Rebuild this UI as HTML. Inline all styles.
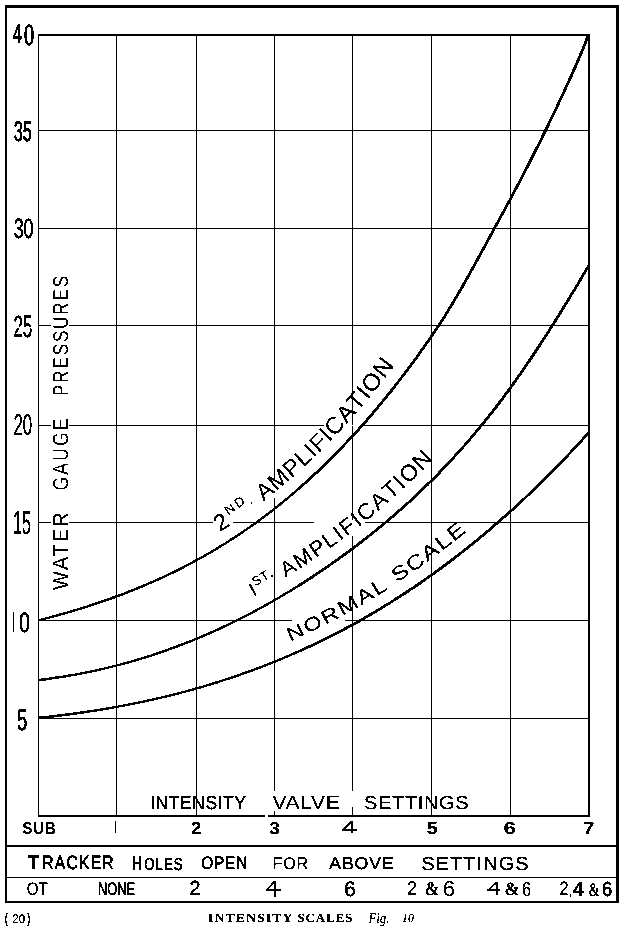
<!DOCTYPE html><html><head><meta charset="utf-8"><title>Intensity Scales</title><style>html,body{margin:0;padding:0;background:#fff;}svg{display:block;}text{font-family:"Liberation Sans",sans-serif;fill:#000;}.b{font-weight:bold}.sf{font-family:"Liberation Serif",serif}.i{font-style:italic}</style></head><body>
<svg width="626" height="931" viewBox="0 0 626 931" shape-rendering="crispEdges">
<defs><filter id="thr" x="0" y="0" width="626" height="931" filterUnits="userSpaceOnUse" color-interpolation-filters="sRGB"><feColorMatrix type="saturate" values="0"/><feComponentTransfer><feFuncR type="discrete" tableValues="0 0 0 0 0 1 1 1"/><feFuncG type="discrete" tableValues="0 0 0 0 0 1 1 1"/><feFuncB type="discrete" tableValues="0 0 0 0 0 1 1 1"/></feComponentTransfer></filter></defs>
<g filter="url(#thr)">
<rect x="0" y="0" width="626" height="931" fill="#fff"/>
<g fill="#000">
<rect x="5" y="5" width="614" height="3"/>
<rect x="5" y="5" width="2" height="898"/>
<rect x="616" y="5" width="3" height="898"/>
<rect x="5" y="901" width="614" height="2"/>
<rect x="5" y="845" width="612" height="2"/>
<rect x="5" y="877" width="612" height="1"/>
<rect x="38" y="34" width="552" height="2"/>
<rect x="38" y="34" width="1" height="782"/>
<rect x="588" y="34" width="2" height="782"/>
<rect x="38" y="815" width="552" height="2"/>
<rect x="116" y="35" width="1" height="781"/>
<rect x="196" y="35" width="1" height="781"/>
<rect x="274" y="35" width="1" height="781"/>
<rect x="352" y="35" width="1" height="781"/>
<rect x="431" y="35" width="1" height="781"/>
<rect x="510" y="35" width="1" height="781"/>
<rect x="38" y="130" width="551" height="1"/>
<rect x="38" y="228" width="551" height="1"/>
<rect x="38" y="325" width="551" height="1"/>
<rect x="38" y="425" width="551" height="1"/>
<rect x="38" y="522" width="551" height="1"/>
<rect x="38" y="620" width="551" height="1"/>
<rect x="38" y="718" width="551" height="1"/>
</g>
<g fill="#fff">
<rect x="51" y="325" width="18" height="1"/>
<rect x="51" y="425" width="18" height="1"/>
<rect x="51" y="522" width="18" height="1"/>
<rect x="274" y="791" width="1" height="20"/>
<rect x="352" y="791" width="1" height="16"/>
<rect x="265" y="815" width="3" height="2"/>
<rect x="324" y="425" width="37" height="1"/>
<rect x="274" y="481" width="1" height="17"/>
<rect x="213" y="522" width="20" height="1"/>
<rect x="314" y="522" width="51" height="1"/>
<rect x="292" y="620" width="53" height="1"/>
<rect x="352" y="520" width="1" height="16"/>
</g>
<g fill="none" stroke="#000" stroke-width="2.3" shape-rendering="auto">
<path d="M38.50,620.37 L42.50,619.34 L46.50,618.29 L50.50,617.22 L54.50,616.13 L58.50,615.02 L62.50,613.89 L66.50,612.75 L70.50,611.58 L74.50,610.39 L78.50,609.18 L82.50,607.94 L86.50,606.68 L90.50,605.40 L94.50,604.09 L98.50,602.76 L102.50,601.40 L106.50,600.01 L110.50,598.59 L114.50,597.15 L118.50,595.68 L122.50,594.18 L126.50,592.65 L130.50,591.08 L134.50,589.49 L138.50,587.86 L142.50,586.20 L146.50,584.51 L150.50,582.78 L154.50,581.02 L158.50,579.22 L162.50,577.39 L166.50,575.52 L170.50,573.61 L174.50,571.67 L178.50,569.68 L182.50,567.66 L186.50,565.59 L190.50,563.49 L194.50,561.34 L198.50,559.15 L202.50,556.92 L206.50,554.65 L210.50,552.33 L214.50,549.97 L218.50,547.56 L222.50,545.10 L226.50,542.60 L230.50,540.05 L234.50,537.46 L238.50,534.81 L242.50,532.11 L246.50,529.37 L250.50,526.57 L254.50,523.73 L258.50,520.83 L262.50,517.88 L266.50,514.87 L270.50,511.81 L274.50,508.70 L278.50,505.53 L282.50,502.31 L286.50,499.03 L290.50,495.69 L294.50,492.29 L298.50,488.84 L302.00,485.77" stroke-width="2.2"/>
<path d="M300.00,487.53 L304.00,483.99 L308.00,480.39 L312.00,476.74 L316.00,473.02 L320.00,469.24 L324.00,465.39 L328.00,461.49 L332.00,457.52 L336.00,453.48 L340.00,449.38 L344.00,445.21 L348.00,440.98 L352.00,436.68 L356.00,432.31 L360.00,427.87 L364.00,423.36 L368.00,418.79 L372.00,414.14 L376.00,409.42 L380.00,404.63 L384.00,399.76 L388.00,394.83 L392.00,389.82 L396.00,384.73 L400.00,379.57 L404.00,374.33 L408.00,369.02 L412.00,363.63 L416.00,358.16 L420.00,352.61 L424.00,346.99 L428.00,341.28 L432.00,335.49 L436.00,329.61 L440.00,323.57 L444.00,317.34 L448.00,310.93 L452.00,304.34 L456.00,297.61 L460.00,290.74 L464.00,283.75 L468.00,276.66 L472.00,269.48 L476.00,262.23 L480.00,254.92 L484.00,247.58 L488.00,240.21 L492.00,232.84 L496.00,225.47 L500.00,218.12 L504.00,210.75 L508.00,203.36 L512.00,195.91 L516.00,188.39 L520.00,180.81 L524.00,173.16 L528.00,165.43 L532.00,157.61 L536.00,149.71 L540.00,141.72 L544.00,133.64 L548.00,125.46 L552.00,117.18 L556.00,108.79 L560.00,100.29 L564.00,91.68 L568.00,82.95 L572.00,74.10 L576.00,65.12 L580.00,55.96 L584.00,46.30 L587.80,36.30" stroke-width="2.6"/>
<path d="M38.50,680.02 L42.50,679.54 L46.50,679.04 L50.50,678.51 L54.50,677.95 L58.50,677.36 L62.50,676.74 L66.50,676.10 L70.50,675.42 L74.50,674.72 L78.50,673.98 L82.50,673.22 L86.50,672.43 L90.50,671.61 L94.50,670.76 L98.50,669.87 L102.50,668.96 L106.50,668.02 L110.50,667.05 L114.50,666.05 L118.50,665.02 L122.50,663.96 L126.50,662.87 L130.50,661.75 L134.50,660.59 L138.50,659.41 L142.50,658.20 L146.50,656.95 L150.50,655.68 L154.50,654.37 L158.50,653.03 L162.50,651.66 L166.50,650.26 L170.50,648.83 L174.50,647.36 L178.50,645.87 L182.50,644.34 L186.50,642.78 L190.50,641.19 L194.50,639.57 L198.50,637.91 L202.50,636.22 L206.50,634.50 L210.50,632.75 L214.50,630.96 L218.50,629.14 L222.50,627.29 L226.50,625.41 L230.50,623.49 L234.50,621.54 L238.50,619.55 L242.50,617.54 L246.50,615.49 L250.50,613.40 L254.50,611.28 L258.50,609.13 L262.50,606.95 L266.50,604.73 L270.50,602.47 L274.50,600.18 L278.50,597.86 L282.50,595.50 L286.50,593.11 L290.50,590.69 L294.50,588.23 L298.50,585.73 L302.00,583.52" stroke-width="2.2"/>
<path d="M300.00,584.79 L304.00,582.24 L308.00,579.66 L312.00,577.05 L316.00,574.40 L320.00,571.72 L324.00,569.00 L328.00,566.24 L332.00,563.45 L336.00,560.63 L340.00,557.76 L344.00,554.86 L348.00,551.93 L352.00,548.96 L356.00,545.95 L360.00,542.91 L364.00,539.82 L368.00,536.70 L372.00,533.53 L376.00,530.33 L380.00,527.07 L384.00,523.77 L388.00,520.43 L392.00,517.03 L396.00,513.59 L400.00,510.09 L404.00,506.54 L408.00,502.94 L412.00,499.28 L416.00,495.56 L420.00,491.79 L424.00,487.95 L428.00,484.05 L432.00,480.10 L436.00,476.07 L440.00,471.99 L444.00,467.83 L448.00,463.61 L452.00,459.32 L456.00,454.95 L460.00,450.52 L464.00,446.01 L468.00,441.42 L472.00,436.76 L476.00,432.02 L480.00,427.20 L484.00,422.30 L488.00,417.32 L492.00,412.25 L496.00,407.10 L500.00,401.87 L504.00,396.54 L508.00,391.13 L512.00,385.62 L516.00,380.03 L520.00,374.35 L524.00,368.58 L528.00,362.73 L532.00,356.80 L536.00,350.79 L540.00,344.71 L544.00,338.56 L548.00,332.33 L552.00,326.04 L556.00,319.69 L560.00,313.27 L564.00,306.80 L568.00,300.27 L572.00,293.68 L576.00,287.05 L580.00,280.36 L584.00,273.63 L588.00,266.86 L588.50,266.01" stroke-width="2.6"/>
<path d="M38.50,717.88 L42.50,717.46 L46.50,717.03 L50.50,716.58 L54.50,716.11 L58.50,715.63 L62.50,715.14 L66.50,714.63 L70.50,714.11 L74.50,713.57 L78.50,713.01 L82.50,712.44 L86.50,711.85 L90.50,711.25 L94.50,710.63 L98.50,709.99 L102.50,709.33 L106.50,708.66 L110.50,707.97 L114.50,707.26 L118.50,706.54 L122.50,705.79 L126.50,705.03 L130.50,704.25 L134.50,703.45 L138.50,702.63 L142.50,701.79 L146.50,700.93 L150.50,700.05 L154.50,699.15 L158.50,698.23 L162.50,697.29 L166.50,696.33 L170.50,695.35 L174.50,694.35 L178.50,693.32 L182.50,692.28 L186.50,691.21 L190.50,690.12 L194.50,689.01 L198.50,687.87 L202.50,686.71 L206.50,685.53 L210.50,684.33 L214.50,683.10 L218.50,681.85 L222.50,680.57 L226.50,679.28 L230.50,677.95 L234.50,676.60 L238.50,675.23 L242.50,673.83 L246.50,672.41 L250.50,670.96 L254.50,669.49 L258.50,667.99 L262.50,666.46 L266.50,664.91 L270.50,663.33 L274.50,661.72 L278.50,660.09 L282.50,658.42 L286.50,656.74 L290.50,655.02 L294.50,653.28 L298.50,651.50 L302.00,649.93" stroke-width="2.2"/>
<path d="M300.00,650.83 L304.00,649.02 L308.00,647.18 L312.00,645.31 L316.00,643.41 L320.00,641.48 L324.00,639.53 L328.00,637.54 L332.00,635.52 L336.00,633.47 L340.00,631.39 L344.00,629.28 L348.00,627.14 L352.00,624.97 L356.00,622.77 L360.00,620.54 L364.00,618.27 L368.00,615.97 L372.00,613.64 L376.00,611.28 L380.00,608.88 L384.00,606.45 L388.00,603.99 L392.00,601.49 L396.00,598.96 L400.00,596.40 L404.00,593.80 L408.00,591.17 L412.00,588.50 L416.00,585.80 L420.00,583.06 L424.00,580.29 L428.00,577.48 L432.00,574.64 L436.00,571.76 L440.00,568.85 L444.00,565.90 L448.00,562.91 L452.00,559.88 L456.00,556.82 L460.00,553.72 L464.00,550.58 L468.00,547.41 L472.00,544.19 L476.00,540.94 L480.00,537.65 L484.00,534.33 L488.00,530.96 L492.00,527.55 L496.00,524.11 L500.00,520.62 L504.00,517.10 L508.00,513.53 L512.00,509.93 L516.00,506.28 L520.00,502.60 L524.00,498.87 L528.00,495.10 L532.00,491.29 L536.00,487.44 L540.00,483.55 L544.00,479.61 L548.00,475.64 L552.00,471.62 L556.00,467.55 L560.00,463.45 L564.00,459.30 L568.00,455.11 L572.00,450.87 L576.00,446.59 L580.00,442.27 L584.00,437.90 L588.00,433.49 L588.50,432.93" stroke-width="2.6"/>
</g>
<g shape-rendering="auto" text-rendering="geometricPrecision">
<text transform="translate(13.70,141.41) scale(0.5768,1)" font-size="28.53" stroke="#000" stroke-width="0.40">35</text>
<text transform="translate(13.70,238.02) scale(0.6367,1)" font-size="27.97" stroke="#000" stroke-width="0.25">30</text>
<text transform="translate(13.40,336.99) scale(0.5466,1)" font-size="30.93" stroke="#000" stroke-width="0.30">25</text>
<text transform="translate(13.40,434.70) scale(0.5646,1)" font-size="29.94" stroke="#000" stroke-width="0.05">20</text>
<text transform="translate(13.10,533.77) scale(0.4816,1)" font-size="33.24" stroke="#000" stroke-width="0.05">15</text>
<text transform="translate(16.90,729.50) scale(0.6247,1)" font-size="29.66" stroke="#000" stroke-width="0.30">5</text>
<text transform="translate(13.00,42.90) scale(0.5827,1)" font-size="27.47" class="b">4</text>
<text transform="translate(24.00,44.51) scale(0.6183,1)" font-size="29.38" stroke="#000" stroke-width="0.50">0</text>
<rect x="12" y="326.6" width="22" height="1.7" fill="#fff"/>
<text transform="translate(19.00,631.72) scale(0.7004,1)" font-size="28.25" stroke="#000" stroke-width="0.30">0</text>
<rect x="13" y="612" width="1" height="20" fill="#000" shape-rendering="crispEdges"/>
<text transform="translate(22.50,833.83) scale(0.8636,1)" font-size="17.23" class="b" letter-spacing="1.03">SUB</text>
<rect x="115" y="821" width="1" height="12" fill="#000" shape-rendering="crispEdges"/>
<text transform="translate(191.10,834.00) scale(1.0599,1)" font-size="17.48" class="b">2</text>
<text transform="translate(269.10,833.81) scale(1.1498,1)" font-size="17.21" class="b">3</text>
<g fill="none" stroke="#000" stroke-linecap="butt"><path d="M342.00,830.00 H356.80" stroke-width="2.00"/><path d="M352.30,821.00 V833.00" stroke-width="1.50"/><path d="M352.00,821.40 L343.00,829.70" stroke-width="1.90"/></g>
<text transform="translate(426.80,833.83) scale(1.1319,1)" font-size="17.48" class="b">5</text>
<text transform="translate(503.40,833.83) scale(1.3047,1)" font-size="17.23" class="b">6</text>
<text transform="translate(583.20,834.00) scale(1.1734,1)" font-size="16.86" class="b">7</text>
<text transform="translate(150.20,808.81) scale(0.9335,1)" font-size="18.79" letter-spacing="0.56" stroke="#000" stroke-width="0.15">INTENSITY</text>
<text transform="translate(272.50,809.00) scale(1.0893,1)" font-size="19.33" letter-spacing="0.58">VALVE</text>
<text transform="translate(364.10,808.81) scale(1.0675,1)" font-size="18.79" letter-spacing="0.56">SETTINGS</text>
<text transform="translate(27.60,869.30) scale(0.9770,1)" font-size="19.77" class="b">T</text>
<text transform="translate(42.20,869.11) scale(0.8148,1)" font-size="19.21" letter-spacing="1.54" stroke="#000" stroke-width="0.40">RACKER</text>
<text transform="translate(131.80,869.50) scale(0.7043,1)" font-size="20.06" class="b">H</text>
<text transform="translate(144.20,869.52) scale(0.7540,1)" font-size="17.51" letter-spacing="1.40" stroke="#000" stroke-width="0.30">OLES</text>
<text transform="translate(201.30,869.32) scale(0.8527,1)" font-size="18.08" letter-spacing="0.90" stroke="#000" stroke-width="0.30">OPEN</text>
<text transform="translate(272.50,869.33) scale(0.9553,1)" font-size="16.95" letter-spacing="0.85">FOR</text>
<text transform="translate(329.30,869.33) scale(1.0421,1)" font-size="16.95" letter-spacing="0.85" stroke="#000" stroke-width="0.20">ABOVE</text>
<text transform="translate(421.40,869.81) scale(1.0665,1)" font-size="18.79" letter-spacing="0.94" stroke="#000" stroke-width="0.10">SETTINGS</text>
<text transform="translate(26.80,895.22) scale(0.8363,1)" font-size="18.08">OT</text>
<text transform="translate(97.90,895.22) scale(0.7103,1)" font-size="18.08" stroke="#000" stroke-width="0.30">NONE</text>
<text transform="translate(189.50,895.10) scale(0.9657,1)" font-size="20.49" stroke="#000" stroke-width="0.30">2</text>
<g fill="none" stroke="#000" stroke-linecap="butt"><path d="M265.90,890.00 H280.90" stroke-width="1.70"/><path d="M275.00,880.80 V896.80" stroke-width="2.30"/><path d="M274.70,881.20 L266.90,889.70" stroke-width="1.70"/></g>
<text transform="translate(344.10,895.69) scale(1.0466,1)" font-size="20.62" stroke="#000" stroke-width="0.20">6</text>
<text transform="translate(407.00,895.20) scale(0.9370,1)" font-size="19.77">2</text>
<text transform="translate(424.90,895.20) scale(0.8591,1)" font-size="19.70" class="b sf">&amp;</text>
<text transform="translate(442.80,896.28) scale(1.0253,1)" font-size="21.75">6</text>
<g fill="none" stroke="#000" stroke-linecap="butt"><path d="M487.20,890.30 H500.30" stroke-width="1.80"/><path d="M497.00,881.80 V894.80" stroke-width="2.40"/><path d="M496.70,882.20 L488.20,890.00" stroke-width="1.30"/></g>
<text transform="translate(504.40,894.71) scale(0.9507,1)" font-size="18.81" class="b sf">&amp;</text>
<text transform="translate(522.00,895.80) scale(0.7959,1)" font-size="20.34">6</text>
<text transform="translate(559.40,895.00) scale(0.8432,1)" font-size="19.20">2</text>
<text transform="translate(569.00,896.17) scale(0.4742,1)" font-size="17.45">,</text>
<text transform="translate(572.80,896.10) scale(1.0043,1)" font-size="20.06" class="b">4</text>
<text transform="translate(588.50,895.51) scale(0.6981,1)" font-size="19.26" class="b sf">&amp;</text>
<text transform="translate(601.90,895.90) scale(0.8870,1)" font-size="20.48" stroke="#000" stroke-width="0.40">6</text>
<text transform="translate(5.10,923.02) scale(0.5598,1)" font-size="13.41" stroke="#000" stroke-width="0.40">(</text>
<text transform="translate(12.30,923.07) scale(0.9085,1)" font-size="12.57">20</text>
<text transform="translate(27.60,923.02) scale(0.5822,1)" font-size="13.41" stroke="#000" stroke-width="0.40">)</text>
<text transform="translate(208.10,922.27) scale(1.0877,1)" font-size="12.65" class="b sf" letter-spacing="1.01">INTENSITY</text>
<text transform="translate(297.40,922.27) scale(1.0152,1)" font-size="12.65" class="b sf" letter-spacing="1.01">SCALES</text>
<text transform="translate(368.38,923.18) scale(0.8810,1)" font-size="14.63" class="sf i">Fig.</text>
<text transform="translate(402.00,922.48) scale(0.9596,1)" font-size="12.30" class="sf i">10</text>
<g transform="translate(0,0) rotate(-90)">
<text transform="translate(-590.00,67.50) scale(0.9176,1)" font-size="21.66" letter-spacing="2.17" stroke="#fff" stroke-width="0.15">WATER</text>
<text transform="translate(-490.50,67.59) scale(0.8207,1)" font-size="21.47" letter-spacing="2.58" stroke="#fff" stroke-width="0.15">GAUGE</text>
<text transform="translate(-396.00,67.59) scale(0.7840,1)" font-size="21.47" letter-spacing="2.58" stroke="#fff" stroke-width="0.15">PRESSURES</text>
</g>
<text transform="translate(220.00,531.92) rotate(-32.95)" font-size="23.00">2</text>
<text transform="translate(228.13,515.28) rotate(-34.45)" font-size="13.00">N</text>
<text transform="translate(238.33,508.24) rotate(-35.75)" font-size="13.00">D</text>
<text transform="translate(250.51,504.98) rotate(-36.67)" font-size="14.00">.</text>
<text transform="translate(263.50,501.43) rotate(-38.48)" font-size="23.00">A</text>
<text transform="translate(276.11,491.39) rotate(-40.22)" font-size="23.08">M</text>
<text transform="translate(291.38,478.46) rotate(-41.90)" font-size="23.17">P</text>
<text transform="translate(303.46,467.61) rotate(-43.24)" font-size="23.25">L</text>
<text transform="translate(313.44,458.21) rotate(-44.15)" font-size="23.33">I</text>
<text transform="translate(318.65,453.15) rotate(-45.09)" font-size="23.42">F</text>
<text transform="translate(329.29,442.46) rotate(-46.01)" font-size="23.50">I</text>
<text transform="translate(334.37,437.20) rotate(-47.00)" font-size="23.58">C</text>
<text transform="translate(346.51,424.17) rotate(-48.32)" font-size="23.67">A</text>
<text transform="translate(357.52,411.79) rotate(-49.47)" font-size="23.75">T</text>
<text transform="translate(367.44,400.17) rotate(-50.27)" font-size="23.83">I</text>
<text transform="translate(372.17,394.47) rotate(-51.17)" font-size="23.92">O</text>
<text transform="translate(384.32,379.37) rotate(-52.38)" font-size="24.00">N</text>
<text transform="translate(253.50,596.48) rotate(-28.82)" font-size="19.00">I</text>
<text transform="translate(255.06,586.49) rotate(-29.49)" font-size="13.00">S</text>
<text transform="translate(263.27,581.84) rotate(-30.23)" font-size="13.00">T</text>
<text transform="translate(270.80,577.44) rotate(-30.77)" font-size="13.00">.</text>
<text transform="translate(285.80,577.73) rotate(-32.19)" font-size="21.50">A</text>
<text transform="translate(299.29,569.22) rotate(-33.54)" font-size="21.62">M</text>
<text transform="translate(315.63,558.37) rotate(-34.85)" font-size="21.75">P</text>
<text transform="translate(328.85,549.15) rotate(-35.90)" font-size="21.88">L</text>
<text transform="translate(340.00,541.06) rotate(-36.64)" font-size="22.00">I</text>
<text transform="translate(346.19,536.45) rotate(-37.43)" font-size="22.12">F</text>
<text transform="translate(358.18,527.24) rotate(-38.26)" font-size="22.25">I</text>
<text transform="translate(364.29,522.41) rotate(-39.23)" font-size="22.38">C</text>
<text transform="translate(378.04,511.16) rotate(-40.59)" font-size="22.50">A</text>
<text transform="translate(390.65,500.34) rotate(-41.89)" font-size="22.62">T</text>
<text transform="translate(402.12,490.02) rotate(-42.85)" font-size="22.75">I</text>
<text transform="translate(407.93,484.62) rotate(-43.99)" font-size="22.88">O</text>
<text transform="translate(421.87,471.13) rotate(-45.55)" font-size="23.00">N</text>
<text transform="translate(290.30,641.47) rotate(-24.46) scale(1.220,1)" font-size="19.00">N</text>
<text transform="translate(307.25,633.73) rotate(-25.99) scale(1.220,1)" font-size="19.20">O</text>
<text transform="translate(325.32,624.89) rotate(-27.52) scale(1.220,1)" font-size="19.40">R</text>
<text transform="translate(342.15,616.10) rotate(-29.10) scale(1.220,1)" font-size="19.60">M</text>
<text transform="translate(361.19,605.47) rotate(-30.62) scale(1.220,1)" font-size="19.80">A</text>
<text transform="translate(376.68,596.28) rotate(-31.88) scale(1.220,1)" font-size="20.00">L</text>
<text transform="translate(397.00,582.85) rotate(-33.78) scale(1.220,1)" font-size="20.00">S</text>
<text transform="translate(411.68,573.01) rotate(-35.10) scale(1.220,1)" font-size="20.12">C</text>
<text transform="translate(427.32,561.99) rotate(-36.40) scale(1.220,1)" font-size="20.25">A</text>
<text transform="translate(441.70,551.37) rotate(-37.53) scale(1.220,1)" font-size="20.38">L</text>
<text transform="translate(453.77,542.09) rotate(-38.64) scale(1.220,1)" font-size="20.50">E</text>
</g>
</g></svg></body></html>
